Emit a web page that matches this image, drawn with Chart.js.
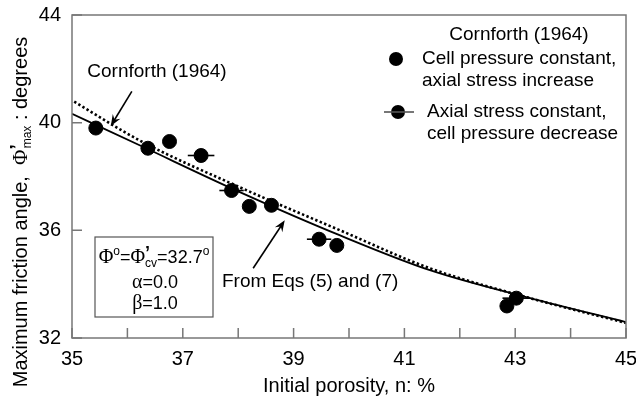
<!DOCTYPE html>
<html>
<head>
<meta charset="utf-8">
<script src="https://cdn.jsdelivr.net/npm/chart.js@4.4.0/dist/chart.umd.min.js"></script>
<style>
  html, body { margin: 0; padding: 0; background: #fff; }
  #wrap { width: 636px; height: 407px; }
</style>
</head>
<body>
<div id="wrap"><canvas id="chart" width="636" height="407"></canvas></div>
<script>
// Cornforth (1964) - cell pressure constant, axial stress increase
const cellX = [35.43, 36.37, 36.76, 38.20, 38.60, 39.78, 42.85];
const cellY = [39.80, 39.05, 39.30, 36.89, 36.93, 35.44, 33.19];
// Cornforth (1964) - axial stress constant, cell pressure decrease (with scatter bar)
const axialX = [37.33, 37.88, 39.46, 43.02];
const axialY = [38.78, 37.48, 35.67, 33.48];
const axialErr = [0.24, 0.22, 0.22, 0.25];
// curve from Eqs (5) and (7)
const eqX = [35.0, 36.23, 38.03, 39.84, 41.46, 43.27, 45.0];
const eqY = [40.33, 39.15, 37.42, 35.81, 34.52, 33.48, 32.59];
// Cornforth (1964) curve
const cornX = [35.04, 36.23, 38.03, 39.84, 41.46, 43.27, 45.0];
const cornY = [40.78, 39.33, 37.60, 36.00, 34.59, 33.48, 32.56];
// tick labels
const xTicks = [35, 37, 39, 41, 43, 45];
const yTicks = [32, 36, 40, 44];

const FONT = "'Liberation Sans', Arial, sans-serif";
const SERIF = "'Liberation Serif', 'Times New Roman', serif";

function pts(xs, ys) {
  return xs.map((x, i) => ({ x: x, y: ys[i] }));
}

// draw a run of text pieces (for sub/superscripts)
function drawRuns(ctx, runs, x, y, align) {
  let total = 0;
  runs.forEach((r) => {
    ctx.font = r.font;
    r.w = ctx.measureText(r.t).width;
    total += r.w + (r.gap || 0);
  });
  let cx = align === "center" ? x - total / 2 : x;
  ctx.textAlign = "left";
  ctx.textBaseline = "alphabetic";
  runs.forEach((r) => {
    ctx.font = r.font;
    ctx.fillText(r.t, cx, y + (r.dy || 0));
    cx += r.w + (r.gap || 0);
  });
}

function arrow(ctx, x1, y1, x2, y2) {
  const a = Math.atan2(y2 - y1, x2 - x1);
  const len = 12;
  ctx.beginPath();
  ctx.moveTo(x1, y1);
  ctx.lineTo(x2 - Math.cos(a) * 4, y2 - Math.sin(a) * 4);
  ctx.stroke();
  ctx.beginPath();
  ctx.moveTo(x2, y2);
  ctx.lineTo(x2 - len * Math.cos(a - 0.38), y2 - len * Math.sin(a - 0.38));
  ctx.lineTo(x2 - len * 0.6 * Math.cos(a), y2 - len * 0.6 * Math.sin(a));
  ctx.lineTo(x2 - len * Math.cos(a + 0.38), y2 - len * Math.sin(a + 0.38));
  ctx.closePath();
  ctx.fill();
}

const decorations = {
  id: "decorations",
  beforeDatasetsDraw(chart) {
    const ctx = chart.ctx;
    const xs = chart.scales.x;
    const ys = chart.scales.y;
    // horizontal bars on the axial stress constant points
    ctx.save();
    ctx.strokeStyle = "#000";
    ctx.lineWidth = 1.6;
    axialX.forEach((x, i) => {
      const py = ys.getPixelForValue(axialY[i]);
      ctx.beginPath();
      ctx.moveTo(xs.getPixelForValue(x - axialErr[i]), py);
      ctx.lineTo(xs.getPixelForValue(x + axialErr[i]), py);
      ctx.stroke();
    });
    ctx.restore();
  },
  afterDraw(chart) {
    const ctx = chart.ctx;
    const a = chart.chartArea;
    const xs = chart.scales.x;
    const ys = chart.scales.y;
    ctx.save();
    // frame
    ctx.strokeStyle = "#777";
    ctx.lineWidth = 1.5;
    ctx.strokeRect(a.left, a.top, a.right - a.left, a.bottom - a.top);
    // inside ticks
    ctx.beginPath();
    xs.ticks.forEach((t) => {
      const px = xs.getPixelForValue(t.value);
      ctx.moveTo(px, a.bottom);
      ctx.lineTo(px, a.bottom - 10);
    });
    ys.ticks.forEach((t) => {
      const py = ys.getPixelForValue(t.value);
      ctx.moveTo(a.left, py);
      ctx.lineTo(a.left + 10, py);
    });
    ctx.stroke();

    ctx.fillStyle = "#000";
    ctx.strokeStyle = "#000";
    ctx.lineWidth = 1.6;
    const ann = "19px " + FONT;

    // annotation: Cornforth (1964) dotted curve
    ctx.font = ann;
    ctx.textAlign = "center";
    ctx.textBaseline = "middle";
    ctx.fillText("Cornforth (1964)", 157, 72);
    arrow(ctx, xs.getPixelForValue(36.08), ys.getPixelForValue(41.16),
      xs.getPixelForValue(35.70), ys.getPixelForValue(39.88));

    // annotation: From Eqs (5) and (7)
    ctx.textAlign = "left";
    ctx.fillText("From Eqs (5) and (7)", 222, 282);
    arrow(ctx, xs.getPixelForValue(38.27), ys.getPixelForValue(34.59),
      xs.getPixelForValue(38.84), ys.getPixelForValue(36.37));

    // parameter box
    ctx.strokeStyle = "#555";
    ctx.lineWidth = 1.2;
    ctx.strokeRect(95, 237, 118, 80);
    ctx.fillStyle = "#000";
    const big = "20px " + SERIF;
    const sans = "18px " + FONT;
    const small = "12px " + FONT;
    drawRuns(ctx, [
      { t: "\u03A6", font: big },
      { t: "o", font: small, dy: -8 },
      { t: "=", font: sans },
      { t: "\u03A6", font: big },
      { t: "\u2019", font: "bold 18px " + FONT, dy: -4, gap: -5 },
      { t: "cv", font: small, dy: 4 },
      { t: "=32.7", font: sans },
      { t: "o", font: small, dy: -8 },
    ], 154, 263, "center");
    drawRuns(ctx, [{ t: "\u03B1", font: big }, { t: "=0.0", font: sans }], 155, 288, "center");
    drawRuns(ctx, [{ t: "\u03B2", font: big }, { t: "=1.0", font: sans }], 155, 309, "center");

    // legend
    ctx.font = ann;
    ctx.textAlign = "center";
    ctx.textBaseline = "middle";
    ctx.fillText("Cornforth (1964)", 519, 35);
    ctx.textAlign = "left";
    ctx.fillText("Cell pressure constant,", 422, 59);
    ctx.fillText("axial stress increase", 422, 81);
    ctx.fillText("Axial stress constant,", 427, 112);
    ctx.fillText("cell pressure decrease", 427, 134);
    ctx.beginPath();
    ctx.arc(396, 59, 7, 0, Math.PI * 2);
    ctx.fill();
    ctx.beginPath();
    ctx.arc(398, 112, 7, 0, Math.PI * 2);
    ctx.fill();
    ctx.lineWidth = 1.6;
    ctx.beginPath();
    ctx.moveTo(384, 112);
    ctx.lineTo(414, 112);
    ctx.stroke();

    // y axis title
    ctx.translate(20, 212);
    ctx.rotate(-Math.PI / 2);
    const tf = "20px " + FONT;
    drawRuns(ctx, [
      { t: "Maximum friction angle,  ", font: tf },
      { t: "\u03A6", font: "21px " + SERIF },
      { t: "\u2019", font: "bold 19px " + FONT, dy: -4, gap: -4 },
      { t: "max", font: "12px " + FONT, dy: 4 },
      { t: " : degrees", font: tf },
    ], 0, 7, "center");
    ctx.restore();
  },
};

new Chart(document.getElementById("chart"), {
  type: "scatter",
  data: {
    datasets: [
      {
        label: "Cell pressure constant",
        data: pts(cellX, cellY),
        backgroundColor: "#000",
        borderColor: "#000",
        pointRadius: 7,
        pointHoverRadius: 7,
      },
      {
        label: "Axial stress constant",
        data: pts(axialX, axialY),
        backgroundColor: "#000",
        borderColor: "#000",
        pointRadius: 7,
        pointHoverRadius: 7,
      },
      {
        label: "From Eqs (5) and (7)",
        data: pts(eqX, eqY),
        showLine: true,
        borderColor: "#000",
        borderWidth: 1.8,
        pointRadius: 0,
        cubicInterpolationMode: "monotone",
      },
      {
        label: "Cornforth (1964)",
        data: pts(cornX, cornY),
        showLine: true,
        borderColor: "#000",
        borderWidth: 2.6,
        borderDash: [2.4, 2.4],
        pointRadius: 0,
        cubicInterpolationMode: "monotone",
      },
    ],
  },
  options: {
    responsive: false,
    animation: false,
    devicePixelRatio: 1,
    layout: { padding: { top: 14, right: 0, left: 0, bottom: 0 } },
    plugins: { legend: { display: false }, tooltip: { enabled: false } },
    scales: {
      x: {
        type: "linear",
        min: 35,
        max: 45,
        grid: { display: false },
        border: { display: false },
        ticks: {
          stepSize: 1,
          autoSkip: false,
          maxRotation: 0,
          padding: 1,
          color: "#000",
          font: { family: FONT, size: 20 },
          callback: (v) => (xTicks.includes(v) ? v : ""),
        },
        title: {
          display: true,
          text: "Initial porosity, n: %",
          color: "#000",
          font: { family: FONT, size: 20 },
          padding: { top: 4, bottom: 9 },
        },
        afterFit: (s) => {
          s.height = 69;
          s.paddingLeft = 0;
          s.paddingRight = 10;
        },
      },
      y: {
        min: 32,
        max: 44,
        grid: { display: false },
        border: { display: false },
        ticks: {
          stepSize: 4,
          padding: 3,
          color: "#000",
          font: { family: FONT, size: 20 },
          callback: (v) => (yTicks.includes(v) ? v : ""),
        },
        afterFit: (s) => { s.width = 72; },
      },
    },
  },
  plugins: [decorations],
});
</script>
</body>
</html>
